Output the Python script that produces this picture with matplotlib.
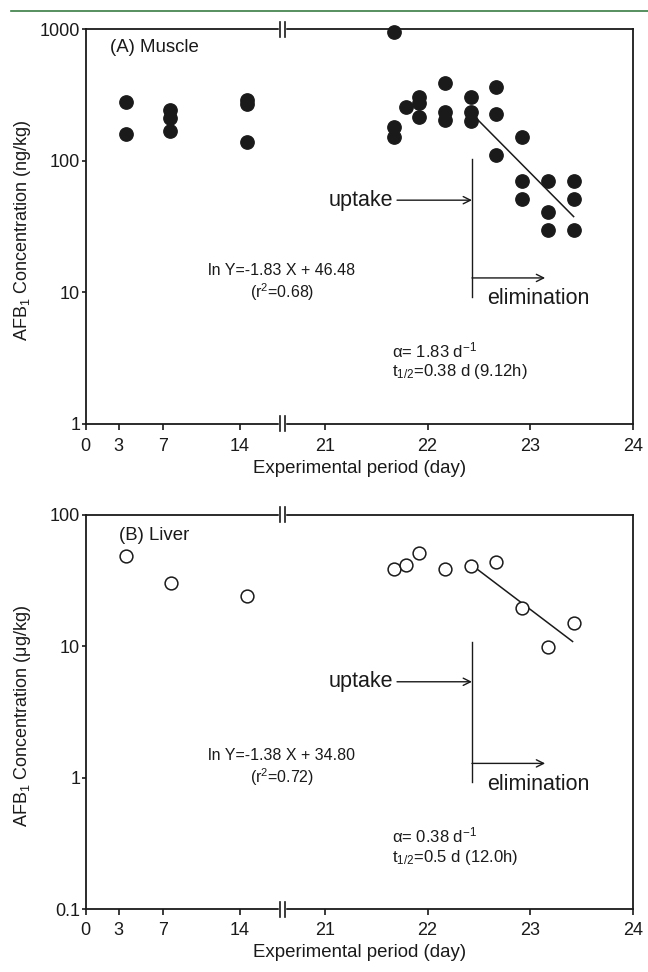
import numpy as np
import matplotlib
matplotlib.use("Agg")
import matplotlib.pyplot as plt
from matplotlib.lines import Line2D

plt.rcParams['font.family'] = ['Liberation Sans', 'DejaVu Sans']
plt.rcParams['mathtext.fontset'] = 'custom'
plt.rcParams['mathtext.rm'] = 'Liberation Sans'
plt.rcParams['mathtext.it'] = 'Liberation Sans:italic'
plt.rcParams['font.size'] = 13

ink = '#1a1a1a'

# ---- data ----
# muscle (ng/kg), filled circles
muscle_day = [3.63, 3.63,
              7.64, 7.64, 7.64,
              14.65, 14.65, 14.65,
              21.67, 21.67, 21.67,
              21.79,
              21.92, 21.92, 21.92,
              22.17, 22.17, 22.17,
              22.42, 22.42, 22.42,
              22.67, 22.67, 22.67,
              22.92, 22.92, 22.92,
              23.17, 23.17, 23.17,
              23.42, 23.42, 23.42]
muscle_conc = [282, 160,
               244, 211, 170,
               290, 271, 140,
               950, 182, 153,
               256,
               308, 274, 215,
               389, 237, 205,
               304, 237, 202,
               366, 226, 111,
               153, 70, 51,
               70, 41, 30,
               70, 51, 30]
muscle_fit_day = [22.44, 23.42]
muscle_fit_conc = [224, 37.7]

# liver (ug/kg), open circles
liver_day = [3.65, 7.7, 14.65, 21.67, 21.79, 21.92, 22.17, 22.42, 22.67, 22.92, 23.17, 23.42]
liver_conc = [48.7, 30.5, 24.2, 38.6, 41.6, 51.1, 38.6, 40.9, 44.1, 19.5, 9.85, 15.1]
liver_fit_day = [22.44, 23.41]
liver_fit_conc = [41, 10.9]

xticks = [0, 3, 7, 14, 21, 22, 23, 24]

# ---- broken x axis: 0..17.9 compressed, 20.6..24 stretched ----
B1, B2 = 17.9, 20.6
k1, k2, u21 = 11.03, 102.9, 239.0
ua = k1 * B1
ub = u21 + k2 * (B2 - 21)


def fwd(x):
    x = np.asarray(x, dtype=float)
    mid = ua + (x - B1) * (ub - ua) / (B2 - B1)
    return np.where(x <= B1, k1 * x, np.where(x >= B2, u21 + k2 * (x - 21), mid))


def inv(u):
    u = np.asarray(u, dtype=float)
    mid = B1 + (u - ua) * (B2 - B1) / (ub - ua)
    return np.where(u <= ua, u / k1, np.where(u >= ub, 21 + (u - u21) / k2, mid))


fig = plt.figure(figsize=(6.48, 9.72), dpi=100)
fig.add_artist(Line2D([0.017, 1.0], [0.9887, 0.9887], color='#3b7d46', lw=1.2))

ax1 = fig.add_axes([0.1323, 0.5638, 0.845, 0.4061])
ax2 = fig.add_axes([0.1323, 0.0645, 0.845, 0.4057])


def style(ax, ylim, yticks, ylabels, ylabel, xpad):
    ax.set_xscale('function', functions=(fwd, inv))
    ax.set_yscale('log')
    ax.set_xlim(0, 24)
    ax.set_ylim(*ylim)
    ax.set_xticks(xticks)
    ax.set_xticklabels([str(t) for t in xticks])
    ax.set_yticks(yticks)
    ax.set_yticklabels(ylabels)
    ax.yaxis.set_minor_locator(matplotlib.ticker.NullLocator())
    ax.xaxis.set_minor_locator(matplotlib.ticker.NullLocator())
    for s in ax.spines.values():
        s.set_linewidth(1.3)
        s.set_color(ink)
    ax.tick_params(axis='x', direction='out', length=4.3, width=1.2, pad=xpad, colors=ink, labelsize=13)
    ax.tick_params(axis='y', direction='out', length=3, width=1.2, pad=1, colors=ink, labelsize=13)
    ax.set_xlabel('Experimental period (day)', fontsize=13.4, color=ink, labelpad=4)
    ax.set_ylabel(ylabel, fontsize=13, color=ink)
    ax.yaxis.set_label_coords(-0.096, 0.49)
    # break marks on top and bottom spines
    for yb in (0, 1):
        ax.plot([0.3555, 0.3625], [yb, yb], transform=ax.transAxes, color='white',
                lw=2.5, clip_on=False, zorder=5)
        for xb in (0.3548, 0.364):
            ax.plot([xb, xb], [yb - 0.019, yb + 0.019], transform=ax.transAxes,
                    color=ink, lw=1.2, clip_on=False, zorder=6)


def notes(ax, vtop, yup, eq, r2, alpha, thalf):
    t = ax.transAxes
    ax.plot([0.7054, 0.7054], [0.322, vtop], transform=t, color=ink, lw=1.0)
    ax.annotate('', xy=(0.7054, yup), xytext=(0.5685, yup), xycoords=t, textcoords=t,
                arrowprops=dict(arrowstyle='->', lw=1.0, color=ink, shrinkA=0, shrinkB=0))
    ax.text(0.561, yup, 'uptake', transform=t, ha='right', va='center', fontsize=15.5, color=ink)
    ax.annotate('', xy=(0.839, 0.370), xytext=(0.7054, 0.370), xycoords=t, textcoords=t,
                arrowprops=dict(arrowstyle='->', lw=1.0, color=ink, shrinkA=0, shrinkB=0))
    ax.text(0.733, 0.317, 'elimination', transform=t, ha='left', va='center', fontsize=15.5, color=ink)
    ax.text(0.358, 0.39, eq, transform=t, ha='center', va='center', fontsize=11.5, color=ink)
    ax.text(0.358, 0.334, r2, transform=t, ha='center', va='center', fontsize=11.5, color=ink)
    ax.text(0.559, 0.1875, alpha, transform=t, ha='left', va='center', fontsize=12, color=ink)
    ax.text(0.559, 0.132, thalf, transform=t, ha='left', va='center', fontsize=12, color=ink)


# (A) muscle
style(ax1, (1, 1000), [1, 10, 100, 1000], ['1', '10', '100', '1000'],
      'AFB$_1$ Concentration (ng/kg)', 5.5)
ax1.plot(muscle_day, muscle_conc, 'o', ms=9.6, color=ink, mec=ink, clip_on=False, zorder=4)
ax1.plot(muscle_fit_day, muscle_fit_conc, '-', color=ink, lw=1.1)
ax1.text(0.044, 0.953, '(A) Muscle', transform=ax1.transAxes, ha='left', va='center',
         fontsize=13.4, color=ink)
notes(ax1, 0.671, 0.567, 'ln Y=-1.83 X + 46.48', '(r$^2$=0.68)',
      'α= 1.83 d$^{-1}$', 't$_{1/2}$=0.38 d (9.12h)')

# (B) liver
style(ax2, (0.1, 100), [0.1, 1, 10, 100], ['0.1', '1', '10', '100'],
      'AFB$_1$ Concentration (μg/kg)', 4.5)
ax2.plot(liver_day, liver_conc, 'o', ms=9.2, mfc='white', mec=ink, mew=1.1, clip_on=False, zorder=4)
ax2.plot(liver_fit_day, liver_fit_conc, '-', color=ink, lw=1.1)
ax2.text(0.06, 0.948, '(B) Liver', transform=ax2.transAxes, ha='left', va='center',
         fontsize=13.4, color=ink)
notes(ax2, 0.679, 0.577, 'ln Y=-1.38 X + 34.80', '(r$^2$=0.72)',
      'α= 0.38 d$^{-1}$', 't$_{1/2}$=0.5 d (12.0h)')

fig.savefig('out.png', dpi=100)
